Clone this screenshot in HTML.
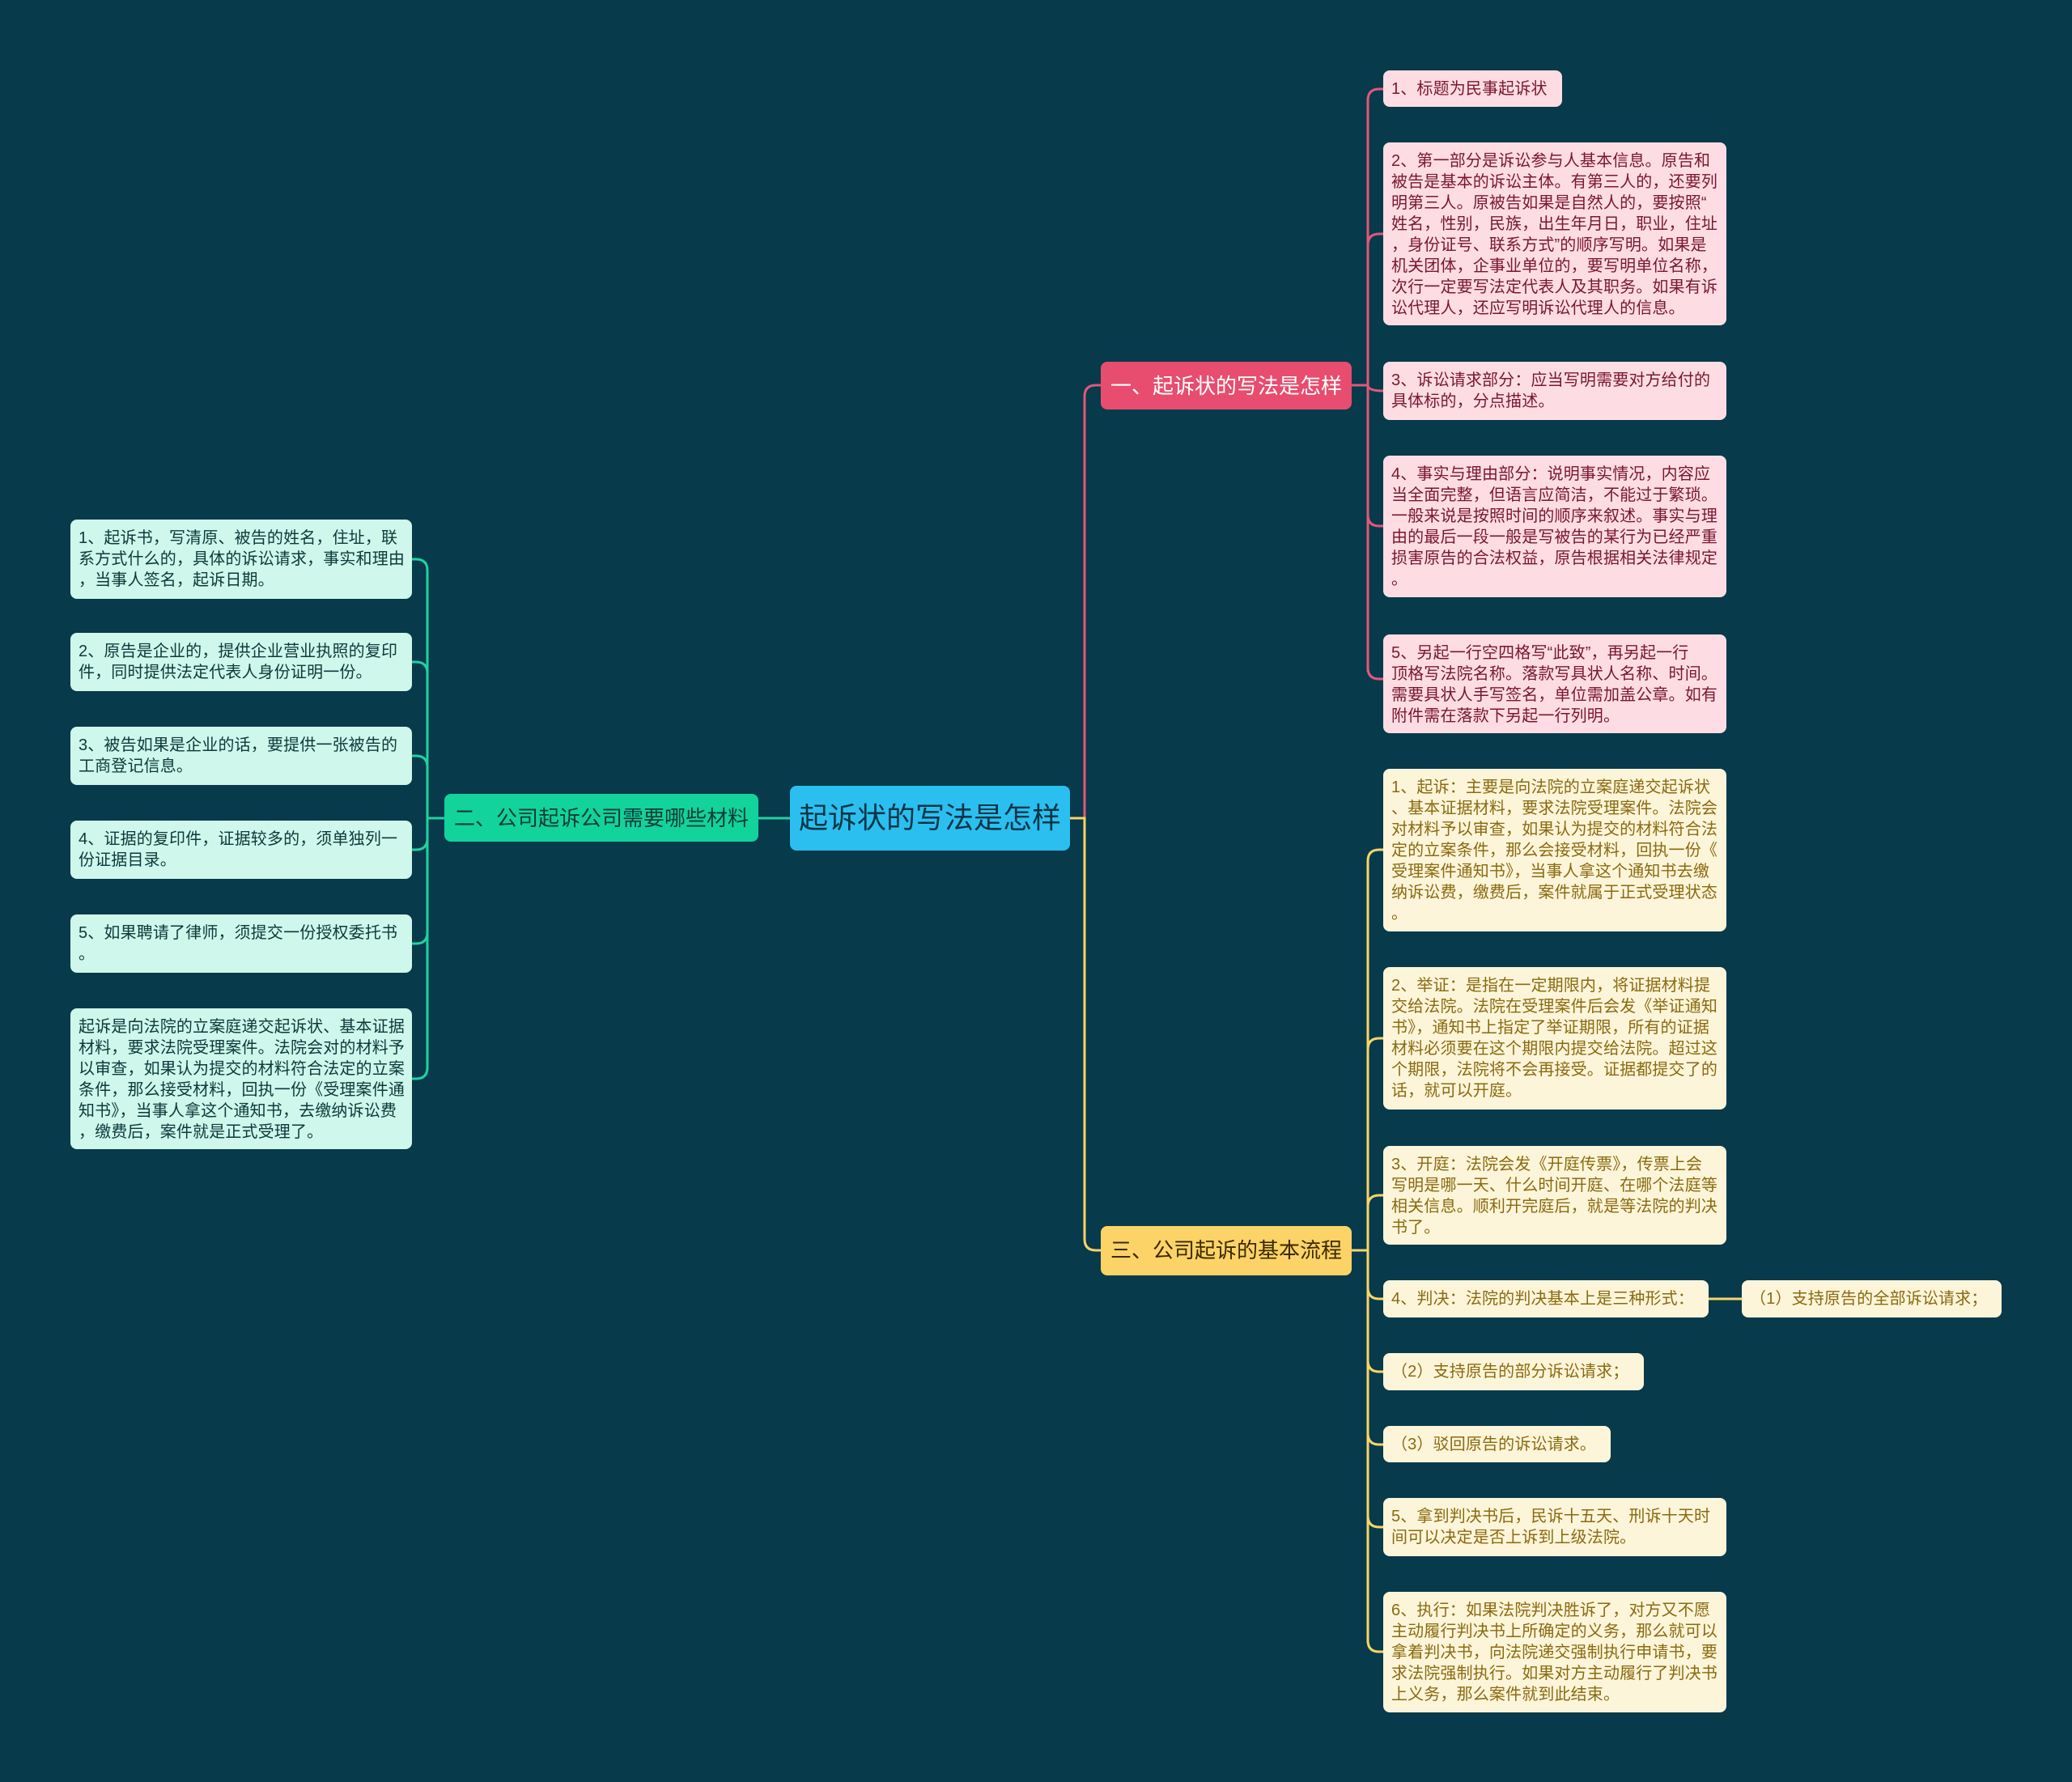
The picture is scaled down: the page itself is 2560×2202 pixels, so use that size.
<!DOCTYPE html>
<html><head><meta charset="utf-8"><style>
body{margin:0;width:2560px;height:2202px;background:#073a4b;position:relative;overflow:hidden;font-family:"Liberation Sans","Noto Sans CJK SC",sans-serif;}
.b{position:absolute;box-sizing:border-box;border-radius:8px;white-space:nowrap;}
.l{font-size:20px;line-height:26px;padding:6px 8px 0 10px;letter-spacing:0.15px;}
.p{background:#fddde3;color:#7a1530;}
.g{background:#cff7ec;color:#0b3a3a;}
.y{background:#fdf5d9;color:#8a6a10;}
.br{font-size:26px;line-height:60px;text-align:center;}
svg{position:absolute;left:0;top:0;}
</style></head><body>
<svg width="2560" height="2202" fill="none" stroke-width="3">
<g stroke="#e3577a">
<path d="M1322 1011 H1340 V490 Q1340 476 1354 476 H1360"/>
<path d="M1670 476 H1690"/>
<path d="M1690 124 V830"/>
<path d="M1690 124 Q1690 110 1704 110 H1709"/>
<path d="M1690 303 Q1690 289 1704 289 H1709"/>
<path d="M1690 476 Q1690 483 1709 483"/>
<path d="M1690 636 Q1690 650 1704 650 H1709"/>
<path d="M1690 825 Q1690 839 1704 839 H1709"/>
</g>
<g stroke="#fcd367">
<path d="M1322 1011 H1340 V1531 Q1340 1545 1354 1545 H1360"/>
<path d="M1670 1545 H1690"/>
<path d="M1690 1064 V2030"/>
<path d="M1690 1064 Q1690 1050 1704 1050 H1709"/>
<path d="M1690 1297 Q1690 1283 1704 1283 H1709"/>
<path d="M1690 1491 Q1690 1477 1704 1477 H1709"/>
<path d="M1690 1591 Q1690 1605 1704 1605 H1709"/>
<path d="M1690 1681 Q1690 1695 1704 1695 H1709"/>
<path d="M1690 1771 Q1690 1785 1704 1785 H1709"/>
<path d="M1690 1873 Q1690 1887 1704 1887 H1709"/>
<path d="M1690 2027 Q1690 2041 1704 2041 H1709"/>
<path d="M2111 1605 H2152"/>
</g>
<g stroke="#1fd3a0">
<path d="M976 1011 H937"/>
<path d="M549 1011 H528"/>
<path d="M528 705 V1319"/>
<path d="M528 705 Q528 691 514 691 H509"/>
<path d="M528 832 Q528 818 514 818 H509"/>
<path d="M528 948 Q528 934 514 934 H509"/>
<path d="M528 1036 Q528 1050 514 1050 H509"/>
<path d="M528 1152 Q528 1166 514 1166 H509"/>
<path d="M528 1319 Q528 1333 514 1333 H509"/>
</g>
</svg>

<div class="b" style="left:976px;top:971px;width:346px;height:80px;background:#2bbff0;color:#0a3545;font-size:36px;line-height:80px;text-align:center;">起诉状的写法是怎样</div>

<div class="b br" style="left:1360px;top:447px;width:310px;height:59px;background:#e84c6e;color:#fff;">一、起诉状的写法是怎样</div>
<div class="b br" style="left:549px;top:981px;width:388px;height:59px;background:#12d39b;color:#0b3a3a;">二、公司起诉公司需要哪些材料</div>
<div class="b br" style="left:1360px;top:1515px;width:310px;height:61px;background:#fcd367;color:#3a2a00;">三、公司起诉的基本流程</div>

<div class="b l p" style="left:1709px;top:87px;width:221px;height:45px;padding-top:10px;">1、标题为民事起诉状</div>
<div class="b l p" style="left:1709px;top:176px;width:424px;height:226px;padding-top:10px;">2、第一部分是诉讼参与人基本信息。原告和<br>被告是基本的诉讼主体。有第三人的，还要列<br>明第三人。原被告如果是自然人的，要按照“<br>姓名，性别，民族，出生年月日，职业，住址<br>，身份证号、联系方式”的顺序写明。如果是<br>机关团体，企事业单位的，要写明单位名称，<br>次行一定要写法定代表人及其职务。如果有诉<br>讼代理人，还应写明诉讼代理人的信息。</div>
<div class="b l p" style="left:1709px;top:447px;width:424px;height:72px;padding-top:10px;">3、诉讼请求部分：应当写明需要对方给付的<br>具体标的，分点描述。</div>
<div class="b l p" style="left:1709px;top:563px;width:424px;height:175px;padding-top:10px;">4、事实与理由部分：说明事实情况，内容应<br>当全面完整，但语言应简洁，不能过于繁琐。<br>一般来说是按照时间的顺序来叙述。事实与理<br>由的最后一段一般是写被告的某行为已经严重<br>损害原告的合法权益，原告根据相关法律规定<br>。</div>
<div class="b l p" style="left:1709px;top:784px;width:424px;height:122px;padding-top:10px;">5、另起一行空四格写“此致”，再另起一行<br>顶格写法院名称。落款写具状人名称、时间。<br>需要具状人手写签名，单位需加盖公章。如有<br>附件需在落款下另起一行列明。</div>

<div class="b l g" style="left:87px;top:642px;width:422px;height:98px;padding-top:10px;">1、起诉书，写清原、被告的姓名，住址，联<br>系方式什么的，具体的诉讼请求，事实和理由<br>，当事人签名，起诉日期。</div>
<div class="b l g" style="left:87px;top:782px;width:422px;height:72px;padding-top:10px;">2、原告是企业的，提供企业营业执照的复印<br>件，同时提供法定代表人身份证明一份。</div>
<div class="b l g" style="left:87px;top:898px;width:422px;height:72px;padding-top:10px;">3、被告如果是企业的话，要提供一张被告的<br>工商登记信息。</div>
<div class="b l g" style="left:87px;top:1014px;width:422px;height:72px;padding-top:10px;">4、证据的复印件，证据较多的，须单独列一<br>份证据目录。</div>
<div class="b l g" style="left:87px;top:1130px;width:422px;height:72px;padding-top:10px;">5、如果聘请了律师，须提交一份授权委托书<br>。</div>
<div class="b l g" style="left:87px;top:1246px;width:422px;height:174px;padding-top:10px;">起诉是向法院的立案庭递交起诉状、基本证据<br>材料，要求法院受理案件。法院会对的材料予<br>以审查，如果认为提交的材料符合法定的立案<br>条件，那么接受材料，回执一份《受理案件通<br>知书》，当事人拿这个通知书，去缴纳诉讼费<br>，缴费后，案件就是正式受理了。</div>

<div class="b l y" style="left:1709px;top:950px;width:424px;height:201px;padding-top:10px;">1、起诉：主要是向法院的立案庭递交起诉状<br>、基本证据材料，要求法院受理案件。法院会<br>对材料予以审查，如果认为提交的材料符合法<br>定的立案条件，那么会接受材料，回执一份《<br>受理案件通知书》，当事人拿这个通知书去缴<br>纳诉讼费，缴费后，案件就属于正式受理状态<br>。</div>
<div class="b l y" style="left:1709px;top:1195px;width:424px;height:176px;padding-top:10px;">2、举证：是指在一定期限内，将证据材料提<br>交给法院。法院在受理案件后会发《举证通知<br>书》，通知书上指定了举证期限，所有的证据<br>材料必须要在这个期限内提交给法院。超过这<br>个期限，法院将不会再接受。证据都提交了的<br>话，就可以开庭。</div>
<div class="b l y" style="left:1709px;top:1416px;width:424px;height:122px;padding-top:10px;">3、开庭：法院会发《开庭传票》，传票上会<br>写明是哪一天、什么时间开庭、在哪个法庭等<br>相关信息。顺利开完庭后，就是等法院的判决<br>书了。</div>
<div class="b l y" style="left:1709px;top:1582px;width:402px;height:46px;padding-top:10px;">4、判决：法院的判决基本上是三种形式：</div>
<div class="b l y" style="left:2152px;top:1582px;width:321px;height:46px;padding-top:10px;">（1）支持原告的全部诉讼请求；</div>
<div class="b l y" style="left:1709px;top:1672px;width:322px;height:46px;padding-top:10px;">（2）支持原告的部分诉讼请求；</div>
<div class="b l y" style="left:1709px;top:1762px;width:281px;height:45px;padding-top:10px;">（3）驳回原告的诉讼请求。</div>
<div class="b l y" style="left:1709px;top:1851px;width:424px;height:72px;padding-top:10px;">5、拿到判决书后，民诉十五天、刑诉十天时<br>间可以决定是否上诉到上级法院。</div>
<div class="b l y" style="left:1709px;top:1967px;width:424px;height:149px;padding-top:10px;">6、执行：如果法院判决胜诉了，对方又不愿<br>主动履行判决书上所确定的义务，那么就可以<br>拿着判决书，向法院递交强制执行申请书，要<br>求法院强制执行。如果对方主动履行了判决书<br>上义务，那么案件就到此结束。</div>
</body></html>
